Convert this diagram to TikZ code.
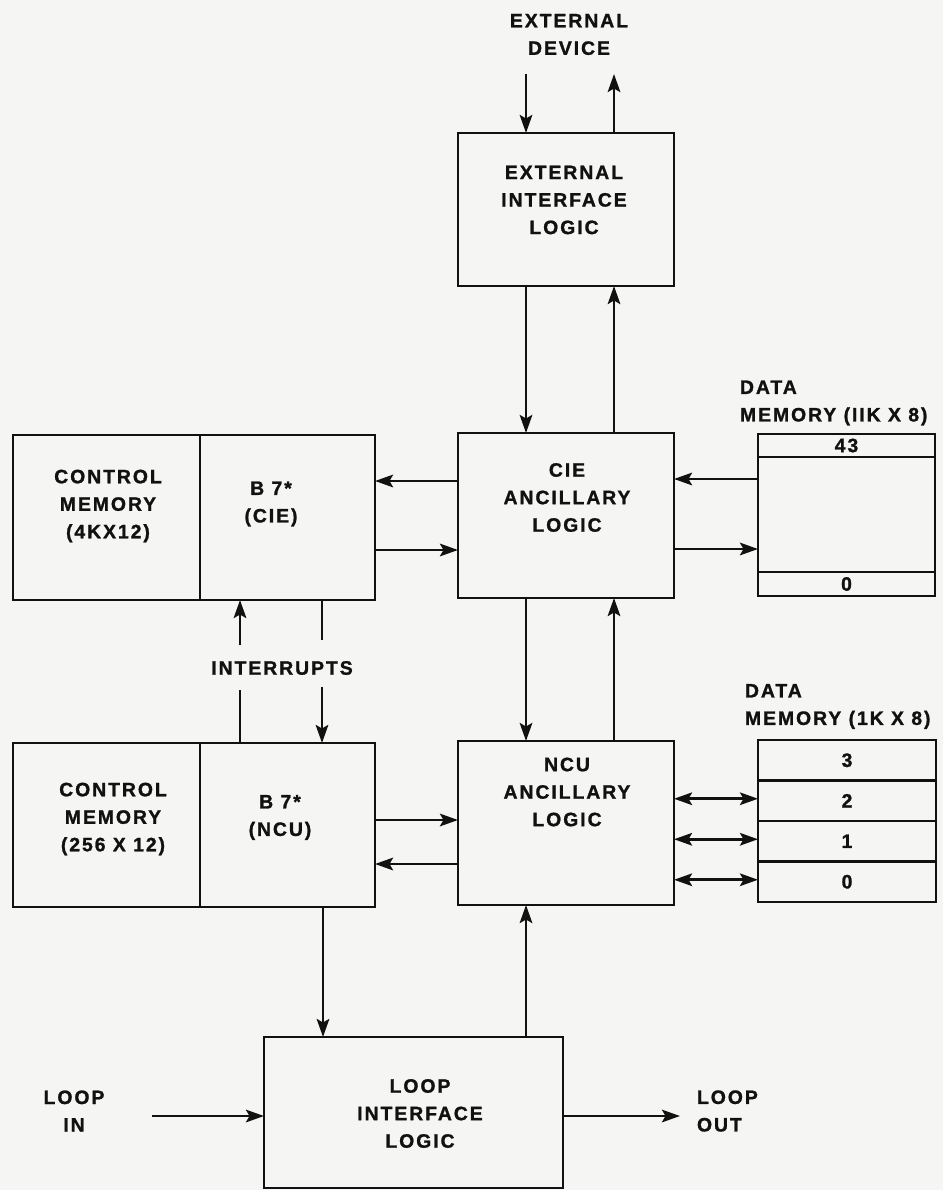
\documentclass[tikz,border=0pt]{standalone}
\usepackage{fontspec}
\setmainfont{Liberation Sans}[LetterSpace=10, BoldFeatures={FakeBold=1.2}]
\usetikzlibrary{arrows.meta}
\definecolor{paper}{HTML}{F5F5F3}
\definecolor{ink}{HTML}{111111}
\begin{document}
\begin{tikzpicture}[x=1pt,y=-1pt,
  every node/.style={inner sep=0pt, outer sep=0pt},
  blk/.style={draw=ink, line width=2.8pt, rectangle},
  lbl/.style={text=ink, font=\bfseries\fontsize{19.4}{27.5}\selectfont, align=center},
  lbll/.style={lbl, align=left, anchor=west},
  wire/.style={draw=ink, line width=2.8pt},
  conn/.style={wire, -{Stealth[length=18pt,width=12.5pt,inset=3.5pt]}},
  both/.style={wire, {Stealth[length=18pt,width=12.5pt,inset=3.5pt]}-{Stealth[length=18pt,width=12.5pt,inset=3.5pt]}}]
\fill[paper] (0,0) rectangle (943,1190);
\useasboundingbox (0,0) rectangle (943,1190);

% boxes
\node[blk, minimum width=216pt, minimum height=153pt] (ext) at (566,209.5) {};
\node[blk, minimum width=216pt, minimum height=165pt] (cie) at (566,515.5) {};
\node[blk, minimum width=216pt, minimum height=164pt] (ncu) at (566,823) {};
\node[blk, minimum width=299pt, minimum height=151pt] (loop) at (413.5,1112.5) {};
\node[blk, minimum width=187pt, minimum height=165pt] (cm1) at (106.5,517.5) {};
\node[blk, minimum width=175pt, minimum height=165pt] (b71) at (287.5,517.5) {};
\node[blk, minimum width=187pt, minimum height=164pt] (cm2) at (106.5,825) {};
\node[blk, minimum width=175pt, minimum height=164pt] (b72) at (287.5,825) {};

% data memory (11K x 8)
\node[blk, lbl, minimum width=177pt, minimum height=23pt] (d1a) at (846.5,445.5) {43};
\node[blk, minimum width=177pt, minimum height=115pt] (d1b) at (846.5,514.5) {};
\node[blk, lbl, minimum width=177pt, minimum height=24pt] (d1c) at (846.5,584) {0};

% data memory (1K x 8)
\node[blk, lbl, minimum width=178pt, minimum height=40.5pt] (d23) at (847,760.25) {3};
\node[blk, lbl, minimum width=178pt, minimum height=40.5pt] (d22) at (847,800.75) {2};
\node[blk, lbl, minimum width=178pt, minimum height=40.5pt] (d21) at (847,841.25) {1};
\node[blk, lbl, minimum width=178pt, minimum height=40.5pt] (d20) at (847,881.75) {0};

% texts
\node[lbl] (extdev) at (569,34.5) {EXTERNAL\\DEVICE};
\node[lbl] (extt) at (564,200) {EXTERNAL\\INTERFACE\\LOGIC};
\node[lbl] (ciet) at (567,497.5) {CIE\\ANCILLARY\\LOGIC};
\node[lbl] (ncut) at (567,792) {NCU\\ANCILLARY\\LOGIC};
\node[lbl] (loopt) at (420,1113.5) {LOOP\\INTERFACE\\LOGIC};
\node[lbl] (cm1t) at (108,506) {CONTROL\\MEMORY\\(4KX12)};
\node[lbl] (b71t) at (271,504) {B 7*\\(CIE)};
\node[lbl] (cm2t) at (113,819) {CONTROL\\MEMORY\\(256 X 12)};
\node[lbl] (b72t) at (280,817.5) {B 7*\\(NCU)};
\node[lbl] (intr) at (282,668) {INTERRUPTS};
\node[lbll] (dm1l) at (740,403) {DATA\\MEMORY (IIK X 8)};
\node[lbll] (dm2l) at (745,706.5) {DATA\\MEMORY (1K X 8)};
\node[lbl] (lin) at (74,1111) {LOOP\\IN};
\node[lbll] (lout) at (697,1111) {LOOP\\OUT};

% free ends
\coordinate (edin) at (526,74);
\coordinate (edout) at (614,74);
\coordinate (i1) at (240,645);
\coordinate (i2) at (322,640);
\coordinate (i3) at (240,690);
\coordinate (i4) at (322,687);
\coordinate (lina) at (152,1116);
\coordinate (loutb) at (680,1116);

% external device
\draw[conn] (edin) -- ([xshift=-40pt]ext.north);
\draw[conn] ([xshift=48pt]ext.north) -- (edout);
% ext <-> cie
\draw[conn] ([xshift=-40pt]ext.south) -- ([xshift=-40pt]cie.north);
\draw[conn] ([xshift=48pt]cie.north) -- ([xshift=48pt]ext.south);
% cie <-> ncu
\draw[conn] ([xshift=-40pt]cie.south) -- ([xshift=-40pt]ncu.north);
\draw[conn] ([xshift=48pt]ncu.north) -- ([xshift=48pt]cie.south);
% ncu <-> loop
\draw[conn] ([xshift=112.5pt]loop.north) -- ([xshift=-40pt]ncu.south);
\draw[conn] ([xshift=35.5pt]b72.south) -- ([xshift=-90.5pt]loop.north);
% cie <-> b71
\draw[conn] ([yshift=34.5pt]cie.west) -- ([yshift=34.5pt]cie.west -| b71.east);
\draw[conn] ([yshift=-34.5pt]cie.west -| b71.east) -- ([yshift=-34.5pt]cie.west);
% dm1 <-> cie
\draw[conn] ([yshift=36.5pt]cie.east -| d1b.west) -- ([yshift=36.5pt]cie.east);
\draw[conn] ([yshift=-33.5pt]cie.east) -- ([yshift=-33.5pt]cie.east -| d1b.west);
% b72 <-> ncu
\draw[conn] ([yshift=3pt]ncu.west -| b72.east) -- ([yshift=3pt]ncu.west);
\draw[conn] ([yshift=-41pt]ncu.west) -- ([yshift=-41pt]ncu.west -| b72.east);
% ncu <-> dm2
\draw[both] ([yshift=2pt]d22.west -| ncu.east) -- ([yshift=2pt]d22.west);
\draw[both] ([yshift=2pt]d21.west -| ncu.east) -- ([yshift=2pt]d21.west);
\draw[both] ([yshift=2pt]d20.west -| ncu.east) -- ([yshift=2pt]d20.west);
% interrupts
\draw[conn] (i1) -- (i1 |- b71.south);
\draw[wire] (i2 |- b71.south) -- (i2);
\draw[wire] (i3) -- (i3 |- b72.north);
\draw[conn] (i4) -- (i4 |- b72.north);
% loop in/out
\draw[conn] (lina) -- (lina -| loop.west);
\draw[conn] (loutb -| loop.east) -- (loutb);
\end{tikzpicture}
\end{document}
